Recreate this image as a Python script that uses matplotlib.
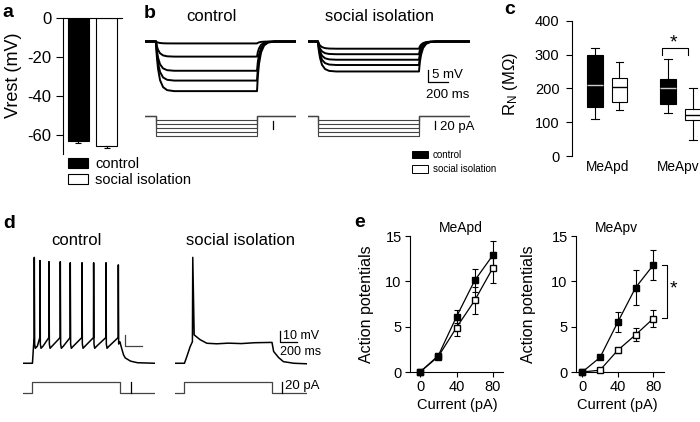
import matplotlib
matplotlib.use("Agg")
import matplotlib.pyplot as plt

plt.rcParams['font.family'] = ['Liberation Sans', 'DejaVu Sans']
plt.rcParams['mathtext.fontset'] = 'custom'
plt.rcParams['mathtext.rm'] = 'Liberation Sans'
plt.rcParams['mathtext.it'] = 'Liberation Sans:italic'
plt.rcParams['axes.unicode_minus'] = False
plt.rcParams['axes.linewidth'] = 0.8
plt.rcParams['xtick.major.width'] = 0.8
plt.rcParams['ytick.major.width'] = 0.8

# ---------------- data ----------------
# a: resting membrane potential (mV)
vrest_groups = ['control', 'social isolation']
vrest_mean = [-63.3, -65.6]
vrest_sem = [0.8, 1.1]

# b: hyperpolarising current steps (pA) and steady-state responses (mV)
b_steps_pA = [-10, -20, -30, -40, -50]
b_ctrl_dv = [-0.8, -6.3, -12.2, -16.3, -20.7]
b_iso_dv = [-3.0, -5.3, -7.6, -9.8, -12.5]
# membrane charging: ms after the step edge, fraction of steady state
charge_t = [0, 8, 20, 40, 70, 110, 180]
charge_f = [0, 0.3, 0.55, 0.78, 0.92, 0.98, 1.0]
step_dur = 1000  # ms

# c: input resistance R_N (MOhm), box statistics per region
rn_regions = ['MeApd', 'MeApv']
rn_ctrl_lo = [110, 128]
rn_ctrl_q1 = [145, 155]
rn_ctrl_med = [210, 200]
rn_ctrl_q3 = [300, 228]
rn_ctrl_hi = [318, 288]
rn_iso_lo = [137, 47]
rn_iso_q1 = [160, 105]
rn_iso_med = [205, 122]
rn_iso_q3 = [230, 140]
rn_iso_hi = [277, 200]

# d: firing in response to a +20 pA step
d_rest = -63
d_step_pA = 20
d_spike_t = [21, 86, 189, 318, 432, 566, 699, 840, 981]
d_spike_peak = [36, 33, 32, 32, 31, 31, 31, 31, 29]
d_thresh = -39
d_ahp_dt = [4, 12, 35]
d_ahp_v = [-45, -49, -47]
d_ctrl_on_t = [-108, 0, 10]
d_ctrl_on_v = [-63, -63, -50]
d_ctrl_off_t = [985, 1000, 1012, 1040, 1060, 1120, 1200, 1400]
d_ctrl_off_v = [-45, -43, -47, -55, -58, -61, -62.5, -63]
d_iso_t = [-106, 0, 27, 65, 91, 95, 111, 180, 256, 370, 500, 650, 800, 1000,
           1019, 1076, 1131, 1250, 1400]
d_iso_v = [-63, -63, -56.8, -47.5, -42.8, 36, -36.5, -41, -44.3, -44.8, -44.2,
           -44.6, -43.8, -43.5, -52, -57.7, -61.5, -63, -63.5]

# e: action potentials vs injected current
current_pA = [0, 20, 40, 60, 80]
pd_ctrl = [0, 1.8, 6.1, 10.1, 12.9]
pd_ctrl_err = [0, 0.3, 0.7, 1.3, 1.5]
pd_iso = [0, 1.7, 4.9, 7.9, 11.5]
pd_iso_err = [0, 0.3, 0.9, 1.5, 1.7]
pv_ctrl = [0, 1.6, 5.5, 9.3, 11.8]
pv_ctrl_err = [0, 0.2, 1.1, 1.9, 1.7]
pv_iso = [0, 0.2, 2.4, 4.1, 5.9]
pv_iso_err = [0, 0.1, 0.3, 0.7, 0.9]

# ---------------- layout helpers ----------------
W, H = 700, 422
fig = plt.figure(figsize=(W / 100, H / 100), dpi=100)


def px_axes(x0, y0, x1, y1):
    # axes from a pixel box, origin at top-left of the figure
    return fig.add_axes([x0 / W, 1 - y1 / H, (x1 - x0) / W, (y1 - y0) / H])


def px_text(x, y, s, **kw):
    return fig.text(x / W, 1 - y / H, s, **kw)


def step_trace(dv, t0, t1):
    t = [t0] + charge_t + [step_dur + c for c in charge_t] + [t1]
    v = [0] + [dv * f for f in charge_f] + [dv * (1 - f) for f in charge_f] + [0]
    return t, v


def current_trace(amp, t0, t1):
    return [t0, 0, 0, step_dur, step_dur, t1], [0, 0, amp, amp, 0, 0]


# panel letters
for x, y, s in [(2, 17, 'a'), (144, 18, 'b'), (504, 14, 'c'), (3, 228, 'd'), (354, 227, 'e')]:
    px_text(x, y, s, fontsize=14, fontweight='bold', va='baseline')

# ---------------- a ----------------
ax = px_axes(63, 18.5, 122, 154.5)
for i, (g, m, e) in enumerate(zip(vrest_groups, vrest_mean, vrest_sem)):
    ax.bar(i, m, width=0.72, color=['black', 'white'][i], edgecolor='black',
           linewidth=0.8, label=g, zorder=2)
    ax.errorbar(i, m, yerr=[[e], [0]], fmt='none', ecolor='black', elinewidth=0.8,
                capsize=2.5, capthick=0.8, zorder=3)
ax.set_xlim(-0.55, 1.55)
ax.set_ylim(-70, 0)
ax.spines['right'].set_visible(False)
ax.spines['bottom'].set_visible(False)
ax.set_xticks([])
ax.set_yticks([0, -20, -40, -60])
ax.tick_params(axis='y', direction='out', length=4.8, pad=3.6, labelsize=12)
px_text(13, 75, 'Vrest (mV)', rotation=90, ha='center', va='center', fontsize=13)
ax.legend(loc='upper left', bbox_to_anchor=(68 / W, 1 - 157 / H), bbox_transform=fig.transFigure,
          frameon=False, fontsize=10.5, handlelength=1.35, handleheight=0.62,
          handletextpad=0.5, labelspacing=0.15, borderpad=0, borderaxespad=0)

# ---------------- b ----------------
b_sets = [(b_ctrl_dv, (-109, 1386), (145, 296), 'control', 211),
          (b_iso_dv, (-99, 1505), (308, 470), 'social isolation', 379)]
for dvs, win, (x0, x1), title, xc in b_sets:
    px_text(xc, 20.7, title, fontsize=12, ha='center', va='baseline')
    axv = px_axes(x0, 30, x1, 100)
    axv.set_xlim(win)
    axv.set_ylim(-24.4, 4.8)
    axv.set_axis_off()
    for dv in dvs:
        axv.plot(*step_trace(dv, *win), color='black', lw=1.4)
    axi = px_axes(x0, 105, x1, 145)
    axi.set_xlim(win)
    axi.set_ylim(-72.5, 27.5)
    axi.set_axis_off()
    for a in b_steps_pA:
        axi.plot(*current_trace(a, *win), color='#444444', lw=0.8)
    axi.plot([1162, 1162], [-12, -32], color='black', lw=0.9)
    if title == 'social isolation':
        axi.text(1208, -28, '20 pA', fontsize=9.5, va='center', ha='left')
        axv.plot([1086, 1086, 1286], [-11.8, -16.8, -16.8], color='black', lw=0.9)
        axv.text(1125, -13.8, '5 mV', fontsize=9.5, va='center', ha='left')
        axv.text(1066, -22.3, '200 ms', fontsize=9.5, va='center', ha='left', clip_on=False)

leg_b = [plt.Rectangle((0, 0), 1, 1, facecolor=c, edgecolor='black', linewidth=0.7)
         for c in ['black', 'white']]
fig.legend(leg_b, vrest_groups, loc='upper left', bbox_to_anchor=(412 / W, 1 - 150 / H),
           frameon=False, fontsize=7, handlelength=1.65, handleheight=0.75,
           handletextpad=0.5, labelspacing=0.45, borderpad=0, borderaxespad=0)

# ---------------- c ----------------
ax = px_axes(572, 20.7, 700, 156)


def box_stats(lo, q1, med, q3, hi):
    return [dict(whislo=a, q1=b, med=c, q3=d, whishi=e, fliers=[])
            for a, b, c, d, e in zip(lo, q1, med, q3, hi)]


line_kw = dict(color='black', linewidth=0.8)
ax.bxp(box_stats(rn_ctrl_lo, rn_ctrl_q1, rn_ctrl_med, rn_ctrl_q3, rn_ctrl_hi),
       positions=[0, 3], widths=0.65, patch_artist=True, showfliers=False,
       boxprops=dict(facecolor='black', edgecolor='black', linewidth=0.8),
       medianprops=dict(color='#cccccc', linewidth=1.0),
       whiskerprops=line_kw, capprops=line_kw)
ax.bxp(box_stats(rn_iso_lo, rn_iso_q1, rn_iso_med, rn_iso_q3, rn_iso_hi),
       positions=[1, 4], widths=0.65, patch_artist=True, showfliers=False,
       boxprops=dict(facecolor='white', edgecolor='black', linewidth=0.8),
       medianprops=dict(color='black', linewidth=1.0),
       whiskerprops=line_kw, capprops=line_kw)
ax.set_xlim(-0.94, 4.29)
ax.set_ylim(0, 400)
for s in ['top', 'right', 'bottom']:
    ax.spines[s].set_visible(False)
ax.set_yticks([0, 100, 200, 300, 400])
ax.set_xticks([0.5, 3.4])
ax.set_xticklabels(rn_regions)
ax.tick_params(axis='y', direction='out', length=4.5, pad=4.5, labelsize=10.5)
ax.tick_params(axis='x', length=0, pad=3, labelsize=9.8)
ax.plot([2.72, 2.72, 3.78, 3.78], [299, 320, 320, 299], color='black', lw=0.8, clip_on=False)
ax.text(3.2, 334, '*', ha='center', va='center', fontsize=14)
px_text(511, 84, 'R$_\\mathrm{N}$ (MΩ)', rotation=90, ha='center', va='center', fontsize=12)

# ---------------- d ----------------
d_ctrl_t = list(d_ctrl_on_t)
d_ctrl_v = list(d_ctrl_on_v)
for k, (s, pk) in enumerate(zip(d_spike_t, d_spike_peak)):
    d_ctrl_t += [s - 2, s]
    d_ctrl_v += [d_thresh, pk]
    if k < len(d_spike_t) - 1:
        d_ctrl_t += [s + dt for dt in d_ahp_dt]
        d_ctrl_v += d_ahp_v
d_ctrl_t += d_ctrl_off_t
d_ctrl_v += d_ctrl_off_v

d_sets = [(d_ctrl_t, d_ctrl_v, (23, 155), 'control', 76),
          (d_iso_t, d_iso_v, (175, 307), 'social isolation', 240)]
for tt, vv, (x0, x1), title, xc in d_sets:
    px_text(xc, 245, title, fontsize=12, ha='center', va='baseline')
    axv = px_axes(x0, 250, x1, 370)
    axv.set_xlim(-108, 1400)
    axv.set_ylim(-69.3, 42.9)
    axv.set_axis_off()
    axv.plot(tt, vv, color='black', lw=1.1)
    axi = px_axes(x0, 375, x1, 400)
    axi.set_xlim(-108, 1400)
    axi.set_ylim(-11.6, 31.6)
    axi.set_axis_off()
    axi.plot(*current_trace(d_step_pA, -108, 1400), color='#444444', lw=0.9)
    if title == 'control':
        axv.plot([1057, 1057, 1257], [-36.6, -46.6, -46.6], color='#444444', lw=0.9)
        axi.plot([1126, 1126], [1, 20], color='black', lw=0.9)
    else:
        axv.plot([1086, 1086, 1286], [-33, -43, -43], color='black', lw=0.9)
        axv.text(1126, -37.5, '10 mV', fontsize=9, va='center', ha='left')
        axv.text(1091, -52.4, '200 ms', fontsize=9, va='center', ha='left', clip_on=False)
        axi.plot([1113, 1113], [1, 20], color='black', lw=0.9)
        axi.text(1151, 12.6, '20 pA', fontsize=9.5, va='center', ha='left', clip_on=False)

# ---------------- e ----------------
e_sets = [((410, 503), (-11, 91), 'MeApd', pd_ctrl, pd_ctrl_err, pd_iso, pd_iso_err, 461, 366.7, 457),
          ((576, 664), (-7, 92), 'MeApv', pv_ctrl, pv_ctrl_err, pv_iso, pv_iso_err, 616, 528.3, 617)]
for (x0, x1), xl, title, c, ce, s, se, xt, xyl, xxl in e_sets:
    ax = px_axes(x0, 236, x1, 372)
    ax.errorbar(current_pA, s, yerr=se, fmt='-s', color='black', mfc='white', mec='black',
                ms=4.5, lw=0.9, elinewidth=0.8, capsize=2.5, capthick=0.8, clip_on=False, zorder=3)
    ax.errorbar(current_pA, c, yerr=ce, fmt='-s', color='black', mfc='black', mec='black',
                ms=4.5, lw=0.9, elinewidth=0.8, capsize=2.5, capthick=0.8, clip_on=False,
                zorder=3 if title == 'MeApd' else 4)
    ax.set_xlim(xl)
    ax.set_ylim(0, 15)
    ax.spines['top'].set_visible(False)
    ax.spines['right'].set_visible(False)
    ax.set_xticks([0, 40, 80])
    ax.set_yticks([0, 5, 10, 15])
    ax.tick_params(direction='out', length=3.5, pad=2.5, labelsize=10.5)
    px_text(xt, 231.7, title, fontsize=10, ha='center', va='baseline')
    px_text(xyl, 304, 'Action potentials', rotation=90, ha='center', va='center', fontsize=11.5)
    px_text(xxl, 405, 'Current (pA)', ha='center', va='center', fontsize=10.5)
    if title == 'MeApv':
        ax.plot([89.8, 95.7, 95.7, 89.8], [11.8, 11.8, 6.0, 6.0], color='black', lw=0.8, clip_on=False)
        ax.text(103, 9.2, '*', ha='center', va='center', fontsize=14)

fig.savefig('out.png', dpi=100)
